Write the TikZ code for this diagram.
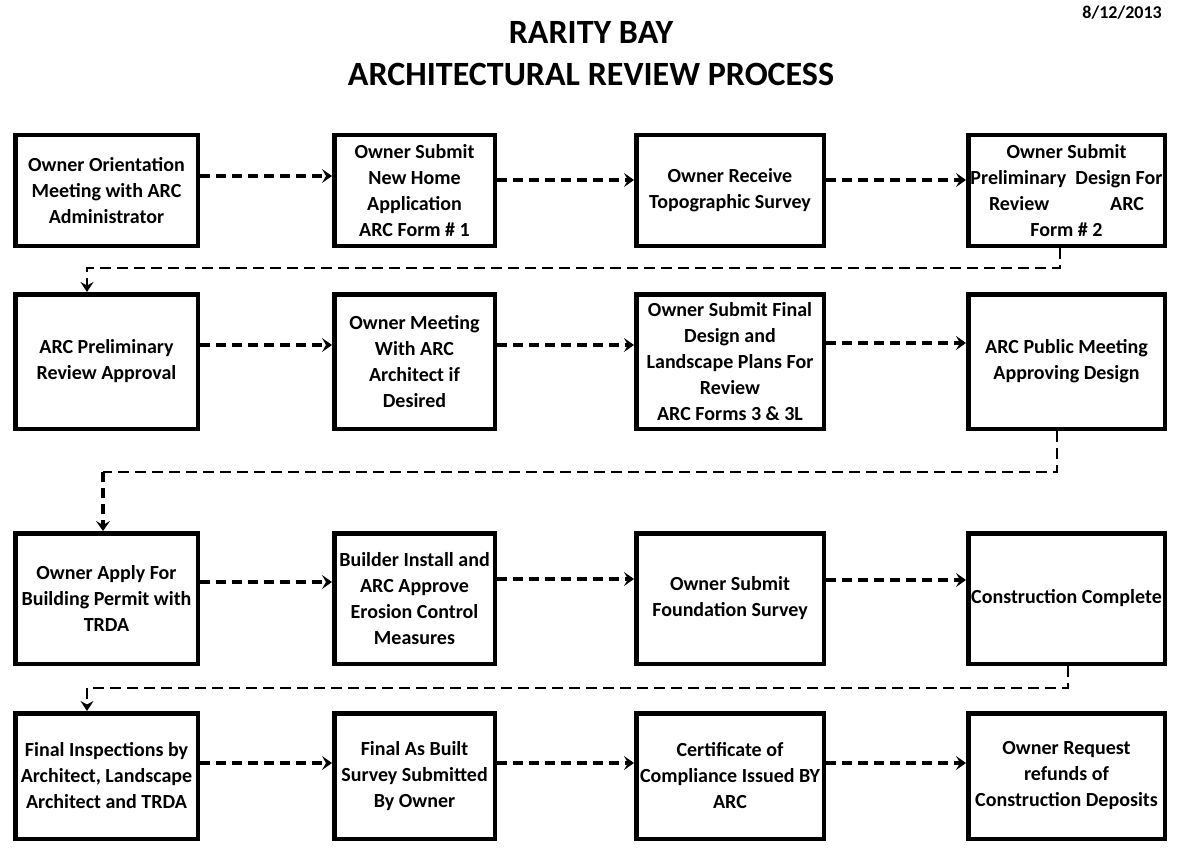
\documentclass[tikz,border=0pt]{standalone}
\usepackage{fontspec}
\setmainfont{Carlito}
\usetikzlibrary{arrows.meta,calc}
\begin{document}
\begin{tikzpicture}[x=1pt,y=-1pt,
  box/.style={draw, line width=4.5pt, inner sep=0pt, align=center,
    font=\bfseries\fontsize{20}{26}\selectfont},
  c1/.style={minimum width=182.5pt}, c2/.style={minimum width=160.5pt},
  c3/.style={minimum width=187.5pt}, c4/.style={minimum width=196.5pt},
  r1/.style={minimum height=110.5pt}, r2/.style={minimum height=134.5pt},
  r3/.style={minimum height=130.5pt}, r4/.style={minimum height=125.5pt},
  thickarr/.style={line width=4.5pt, dash pattern=on 10pt off 6pt,
    -{Stealth[length=10pt,width=14pt,inset=4pt]}},
  medarr/.style={line width=3.5pt, dash pattern=on 10pt off 6pt,
    -{Stealth[length=10pt,width=14pt,inset=4pt]}},
  elbow/.style={line width=2pt, dash pattern=on 11pt off 6pt},
  elbowarr/.style={elbow, -{Stealth[length=10pt,width=13pt,inset=3.5pt]}},
  elbowthick/.style={line width=4pt, dash pattern=on 10pt off 6pt,
    -{Stealth[length=10pt,width=14pt,inset=4pt]}},
  titlefont/.style={font=\bfseries\fontsize{34}{42}\selectfont}
]
\useasboundingbox (0,0) rectangle (1181,848);
\fill[white] (0,0) rectangle (1181,848);

% titles
\node[anchor=base, inner sep=0pt, titlefont] (t1) at (591,44) {RARITY BAY};
\node[anchor=base, inner sep=0pt, titlefont] (t2) at (591,86) {ARCHITECTURAL REVIEW PROCESS};
\node[anchor=base east, inner sep=0pt, font=\bfseries\fontsize{18}{22}\selectfont] (date) at (1162,19) {8/12/2013};

% row 1
\node[box,c1,r1] (b11) at (106.5,190.5) {Owner Orientation\\Meeting with ARC\\Administrator};
\node[box,c2,r1] (b12) at (414.5,190.5) {Owner Submit\\New Home\\Application\\ARC Form \# 1};
\node[box,c3,r1] (b13) at (730,190.5) {Owner Receive\\Topographic Survey};
\node[box,c4,r1] (b14) at (1066.5,190.5) {Owner Submit\\Preliminary\ \ Design For\\Review\hspace*{61pt}ARC\\Form \# 2};

% row 2
\node[box,c1,r2] (b21) at (106.5,361.5) {ARC Preliminary\\Review Approval};
\node[box,c2,r2] (b22) at (414.5,361.5) {Owner Meeting\\With ARC\\Architect if\\Desired};
\node[box,c3,r2] (b23) at (730,361.5) {Owner Submit Final\\Design and\\Landscape Plans For\\Review\\ARC Forms 3 \& 3L};
\node[box,c4,r2] (b24) at (1066.5,361.5) {ARC Public Meeting\\Approving Design};

% row 3
\node[box,c1,r3] (b31) at (106.5,598.5) {Owner Apply For\\Building Permit with\\TRDA};
\node[box,c2,r3] (b32) at (414.5,598.5) {Builder Install and\\ARC Approve\\Erosion Control\\Measures};
\node[box,c3,r3] (b33) at (730,598.5) {Owner Submit\\Foundation Survey};
\node[box,c4,r3] (b34) at (1066.5,598.5) {Construction Complete};

% row 4
\node[box,c1,r4] (b41) at (106.5,776) {Final Inspections by\\Architect, Landscape\\Architect and TRDA};
\node[box,c2,r4] (b42) at (414.5,776) {Final As Built\\Survey Submitted\\By Owner};
\node[box,c3,r4] (b43) at (730,776) {Certificate of\\Compliance Issued BY\\ARC};
\node[box,c4,r4] (b44) at (1066.5,776) {Owner Request\\refunds of\\Construction Deposits};

% horizontal arrows
\draw[thickarr] ([yshift=14.5pt]b11.east) -- ([yshift=14.5pt]b12.west);
\draw[thickarr] ([yshift=10.5pt]b12.east) -- ([yshift=10.5pt]b13.west);
\draw[medarr]   ([yshift=10.5pt]b13.east) -- ([yshift=10.5pt]b14.west);

\draw[medarr]   ([yshift=16.5pt]b21.east) -- ([yshift=16.5pt]b22.west);
\draw[thickarr] ([yshift=16.5pt]b22.east) -- ([yshift=16.5pt]b23.west);
\draw[medarr]   ([yshift=18.5pt]b23.east) -- ([yshift=18.5pt]b24.west);

\draw[medarr]   ([yshift=16.5pt]b31.east) -- ([yshift=16.5pt]b32.west);
\draw[medarr]   ([yshift=19.5pt]b32.east) -- ([yshift=19.5pt]b33.west);
\draw[medarr]   ([yshift=18.5pt]b33.east) -- ([yshift=18.5pt]b34.west);

\draw[medarr]   ([yshift=13pt]b41.east) -- ([yshift=13pt]b42.west);
\draw[medarr]   ([yshift=13pt]b42.east) -- ([yshift=13pt]b43.west);
\draw[thickarr] ([yshift=13pt]b43.east) -- ([yshift=13pt]b44.west);

% elbow connectors between rows
\draw[elbowarr] ([xshift=-6.5pt]b14.south) -- ++(0,20) -| ([xshift=-19.5pt]b21.north);

\coordinate (k2) at ($([xshift=-3.5pt]b31.north)+(0,-59)$);
\draw[elbow] ([xshift=-9.5pt]b24.south) |- (k2);
\draw[elbowthick] (k2) -- ([xshift=-3.5pt]b31.north);

\draw[elbowarr] ([xshift=1.5pt]b34.south) -- ++(0,22) -| ([xshift=-19.5pt]b41.north);
\end{tikzpicture}
\end{document}
